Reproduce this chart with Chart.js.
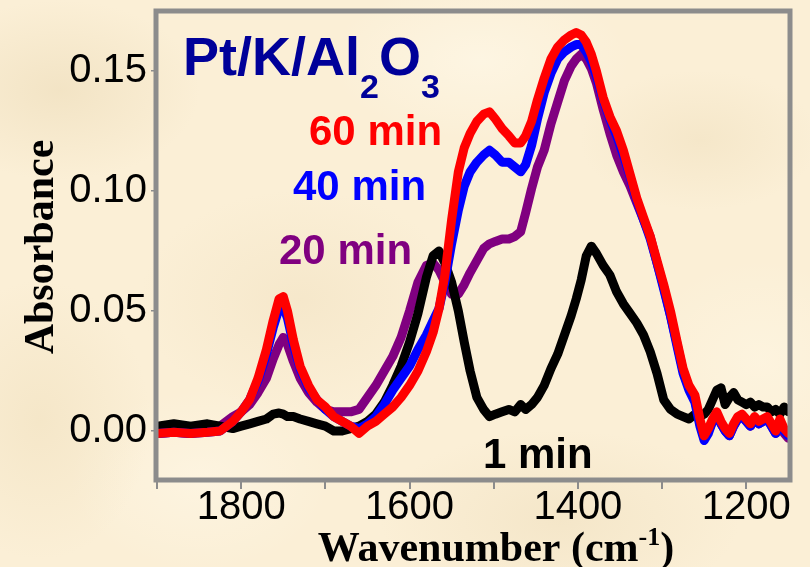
<!DOCTYPE html>
<html>
<head>
<meta charset="utf-8">
<title>Pt/K/Al2O3 – IR absorbance</title>
<script src="https://cdn.jsdelivr.net/npm/chart.js@4.4.0/dist/chart.umd.min.js"></script>
<style>
  html, body { margin: 0; padding: 0; }
  body {
    width: 810px;
    height: 567px;
    overflow: hidden;
    background-color: #fbefd6;
    /* parchment mottling */
    background-image:
      radial-gradient(ellipse 140px 90px at 60px 90px, rgba(232, 214, 176, 0.45), transparent),
      radial-gradient(ellipse 160px 110px at 300px 300px, rgba(236, 218, 182, 0.35), transparent),
      radial-gradient(ellipse 120px 70px at 700px 140px, rgba(234, 216, 178, 0.35), transparent),
      radial-gradient(ellipse 180px 90px at 560px 520px, rgba(232, 214, 176, 0.35), transparent),
      radial-gradient(ellipse 110px 140px at 40px 420px, rgba(236, 218, 180, 0.40), transparent),
      radial-gradient(ellipse 150px 80px at 480px 60px, rgba(255, 250, 236, 0.55), transparent),
      radial-gradient(ellipse 130px 90px at 200px 480px, rgba(255, 249, 234, 0.50), transparent),
      radial-gradient(ellipse 120px 100px at 760px 360px, rgba(255, 249, 232, 0.45), transparent);
  }
  canvas { display: block; }
</style>
</head>
<body>
<canvas id="irChart" width="810" height="567"></canvas>
<script>
// wavenumber grid (cm-1), shared by all spectra
const wavenumber = [
  1900, 1880, 1860, 1840, 1825, 1810, 1800, 1790, 1780, 1770,
  1762, 1755, 1750, 1745, 1738, 1730, 1720, 1710, 1700, 1690,
  1680, 1670, 1660, 1650, 1640, 1630, 1620, 1610, 1600, 1590,
  1580, 1572, 1565, 1558, 1550, 1542, 1535, 1528, 1520, 1512,
  1505, 1498, 1490, 1482, 1475, 1468, 1462, 1455, 1448, 1440,
  1432, 1424, 1416, 1408, 1402, 1396, 1390, 1384, 1378, 1370,
  1362, 1354, 1346, 1338, 1330, 1322, 1314, 1306, 1298, 1290,
  1282, 1275, 1268, 1261, 1255, 1250, 1245, 1240, 1235, 1230,
  1225, 1220, 1215, 1210, 1205, 1200, 1195, 1190, 1185, 1180,
  1175, 1170, 1165, 1160, 1155, 1150
];

const abs60 = [
  -0.001, -0.0005, -0.001, -0.0005, 0.000, 0.004, 0.008, 0.013, 0.022, 0.034,
  0.046, 0.055, 0.056, 0.050, 0.038, 0.027, 0.019, 0.013, 0.010, 0.006,
  0.004, 0.002, -0.001, 0.002, 0.004, 0.007, 0.010, 0.014, 0.019, 0.025,
  0.033, 0.041, 0.051, 0.065, 0.088, 0.108, 0.118, 0.124, 0.129, 0.132,
  0.133, 0.130, 0.126, 0.123, 0.120, 0.120, 0.123, 0.129, 0.138, 0.147,
  0.155, 0.160, 0.163, 0.165, 0.166, 0.165, 0.162, 0.157, 0.150, 0.139,
  0.131, 0.125, 0.117, 0.107, 0.097, 0.089, 0.081, 0.071, 0.061, 0.050,
  0.037, 0.026, 0.019, 0.015, 0.005, -0.002, 0.001, 0.005, 0.008, 0.004,
  0.001, -0.001, 0.003, 0.006, 0.007, 0.005, 0.003, 0.006, 0.004, 0.005,
  0.006, 0.003, 0.000, 0.005, 0.001, -0.001
];

const abs40 = [
  -0.001, -0.0005, -0.001, -0.0005, 0.000, 0.004, 0.008, 0.013, 0.021, 0.032,
  0.043, 0.051, 0.052, 0.047, 0.036, 0.026, 0.018, 0.013, 0.009, 0.006,
  0.004, 0.002, 0.001, 0.003, 0.006, 0.011, 0.017, 0.022, 0.027, 0.034,
  0.040, 0.046, 0.051, 0.062, 0.078, 0.092, 0.102, 0.108, 0.112, 0.115,
  0.117, 0.115, 0.112, 0.112, 0.110, 0.108, 0.111, 0.119, 0.130, 0.141,
  0.149, 0.155, 0.158, 0.160, 0.161, 0.161, 0.158, 0.154, 0.148, 0.138,
  0.130, 0.123, 0.115, 0.106, 0.096, 0.088, 0.080, 0.070, 0.059, 0.048,
  0.035, 0.024, 0.017, 0.012, 0.002, -0.004, -0.001, 0.004, 0.007, 0.003,
  0.000, -0.002, 0.002, 0.005, 0.006, 0.004, 0.002, 0.005, 0.003, 0.004,
  0.005, 0.002, -0.001, 0.004, 0.000, -0.002
];

const abs20 = [
  -0.001, -0.0005, -0.001, 0.000, 0.002, 0.006, 0.008, 0.011, 0.016, 0.022,
  0.030, 0.036, 0.039, 0.036, 0.029, 0.022, 0.016, 0.012, 0.009, 0.008,
  0.008, 0.008, 0.009, 0.014, 0.019, 0.025, 0.031, 0.039, 0.050, 0.062,
  0.069, 0.070, 0.067, 0.062, 0.057, 0.057, 0.061, 0.066, 0.071, 0.076,
  0.078, 0.079, 0.080, 0.080, 0.081, 0.083, 0.091, 0.101, 0.110, 0.117,
  0.128, 0.137, 0.146, 0.152, 0.155, 0.157, 0.155, 0.151, 0.145, 0.134,
  0.124, 0.115, 0.108, 0.102, 0.095, 0.088, 0.081, 0.070, 0.060, 0.048,
  0.036, 0.025, 0.018, 0.013, 0.003, -0.003, 0.000, 0.004, 0.007, 0.003,
  0.000, -0.002, 0.002, 0.005, 0.006, 0.004, 0.002, 0.005, 0.003, 0.004,
  0.005, 0.002, -0.001, 0.003, -0.001, -0.003
];

const abs1 = [
  0.002, 0.003, 0.002, 0.003, 0.002, 0.001, 0.002, 0.003, 0.004, 0.005,
  0.007, 0.0075, 0.007, 0.006, 0.006, 0.005, 0.004, 0.003, 0.002, 0.000,
  0.000, 0.001, 0.002, 0.004, 0.007, 0.012, 0.019, 0.027, 0.037, 0.049,
  0.064, 0.073, 0.075, 0.070, 0.062, 0.050, 0.037, 0.025, 0.014, 0.009,
  0.006, 0.007, 0.008, 0.009, 0.008, 0.011, 0.009, 0.011, 0.014, 0.019,
  0.026, 0.032, 0.040, 0.048, 0.055, 0.063, 0.073, 0.077, 0.074, 0.069,
  0.065, 0.058, 0.053, 0.049, 0.045, 0.040, 0.033, 0.024, 0.013, 0.009,
  0.007, 0.006, 0.005, 0.007, 0.006, 0.007, 0.009, 0.013, 0.017, 0.018,
  0.011, 0.014, 0.016, 0.013, 0.012, 0.011, 0.012, 0.010, 0.011, 0.010,
  0.010, 0.008, 0.009, 0.007, 0.010, 0.008
];

const seriesNames = ['60 min', '40 min', '20 min', '1 min'];
const seriesColors = ['#ff0000', '#0000ff', '#800080', '#000000'];

const xTickMarks = [1900, 1800, 1700, 1600, 1500, 1400, 1300, 1200];
const xTickLabels = [1800, 1600, 1400, 1200];
const yTicks = [0, 0.05, 0.10, 0.15];

const toPoints = ys => wavenumber.map((x, i) => ({ x, y: ys[i] }));

const SANS = '"Liberation Sans", Arial, sans-serif';
const SERIF = '"Liberation Serif", "Times New Roman", serif';

// frame around the plot area plus the in-plot annotations and axis titles
const decorPlugin = {
  id: 'decor',
  afterDatasetsDraw(chart) {
    const { ctx, chartArea: a } = chart;
    ctx.save();

    ctx.strokeStyle = '#8c8c8c';
    ctx.lineWidth = 5;
    ctx.strokeRect(a.left - 1, a.top, a.right - a.left + 1, a.bottom - a.top + 1);

    // sample name with subscripts
    ctx.fillStyle = '#000099';
    ctx.textBaseline = 'alphabetic';
    ctx.textAlign = 'left';
    let x = 183;
    const parts = [['Pt/K/Al', false], ['2', true], ['O', false], ['3', true]];
    for (const [txt, sub] of parts) {
      ctx.font = sub ? `bold 34px ${SANS}` : `bold 54px ${SANS}`;
      ctx.fillText(txt, x, sub ? 98 : 75);
      x += ctx.measureText(txt).width;
    }

    // time labels next to the curves
    const labelAt = [[309, 145], [293, 200], [279, 264], [483, 468]];
    ctx.font = `bold 42px ${SANS}`;
    seriesNames.forEach((name, i) => {
      ctx.fillStyle = seriesColors[i];
      ctx.fillText(name, labelAt[i][0], labelAt[i][1]);
    });

    // x title with superscript
    ctx.fillStyle = '#000';
    const main = 'Wavenumber (cm', sup = '-1', close = ')';
    ctx.font = `bold 42px ${SERIF}`;
    const wMain = ctx.measureText(main).width;
    const wClose = ctx.measureText(close).width;
    ctx.font = `bold 26px ${SERIF}`;
    const wSup = ctx.measureText(sup).width;
    let tx = 496 - (wMain + wSup + wClose) / 2;
    ctx.font = `bold 42px ${SERIF}`;
    ctx.fillText(main, tx, 561);
    tx += wMain;
    ctx.font = `bold 26px ${SERIF}`;
    ctx.fillText(sup, tx, 545);
    tx += wSup;
    ctx.font = `bold 42px ${SERIF}`;
    ctx.fillText(close, tx, 561);

    // y title, rotated
    ctx.translate(53, 247);
    ctx.rotate(-Math.PI / 2);
    ctx.textAlign = 'center';
    ctx.font = `bold 42px ${SERIF}`;
    ctx.fillText('Absorbance', 0, 0);

    ctx.restore();
  }
};

new Chart(document.getElementById('irChart'), {
  type: 'line',
  data: {
    datasets: [abs60, abs40, abs1, abs20].map((ys, i) => {
      const idx = [0, 1, 3, 2][i];
      return {
        label: seriesNames[idx],
        data: toPoints(ys),
        borderColor: seriesColors[idx],
        backgroundColor: seriesColors[idx]
      };
    })
  },
  options: {
    responsive: false,
    animation: false,
    devicePixelRatio: 1,
    layout: { padding: { top: 11, right: 20, left: 0, bottom: 0 } },
    plugins: {
      legend: { display: false },
      tooltip: { enabled: false }
    },
    elements: {
      point: { radius: 0 },
      line: { borderWidth: 9, borderCapStyle: 'round', borderJoinStyle: 'round', tension: 0 }
    },
    scales: {
      x: {
        type: 'linear',
        reverse: true,
        min: 1148,
        max: 1900,
        afterFit: s => { s.height = 88; s.paddingLeft = 0; s.paddingRight = 0; },
        afterBuildTicks: s => { s.ticks = xTickMarks.map(v => ({ value: v })); },
        ticks: {
          autoSkip: false,
          maxRotation: 0,
          padding: 2,
          color: '#000',
          font: { family: SANS, size: 40, lineHeight: 0.85 },
          callback: v => xTickLabels.includes(v) ? String(v) : ''
        },
        grid: { drawOnChartArea: false, tickLength: 10, color: '#8c8c8c', lineWidth: 2 },
        border: { display: false }
      },
      y: {
        min: -0.02,
        max: 0.175,
        afterFit: s => { s.width = 157; s.paddingTop = 0; s.paddingBottom = 0; },
        afterBuildTicks: s => { s.ticks = yTicks.map(v => ({ value: v })); },
        ticks: {
          padding: 4,
          color: '#000',
          font: { family: SANS, size: 40 },
          callback: v => v.toFixed(2)
        },
        grid: { drawOnChartArea: false, tickLength: 6, color: '#8c8c8c', lineWidth: 1.5 },
        border: { display: false }
      }
    }
  },
  plugins: [decorPlugin]
});
</script>
</body>
</html>
